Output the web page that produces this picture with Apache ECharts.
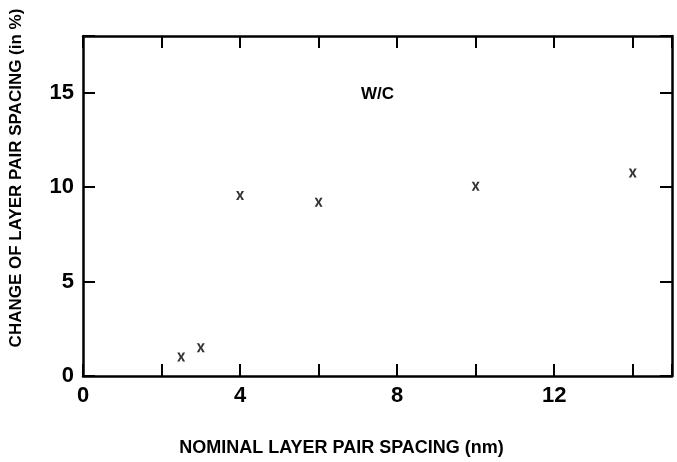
<!DOCTYPE html>
<html>
<head>
<meta charset="utf-8">
<script src="https://cdn.jsdelivr.net/npm/echarts@6/dist/echarts.min.js"></script>
<style>
html,body{margin:0;padding:0;background:#fff;}
#chart{width:677px;height:462px;}
</style>
</head>
<body>
<div id="chart"></div>
<script>
// Data
var spacingNm = [2.5, 3.0, 4.0, 6.0, 10.0, 14.0];
var changePct = [1.0, 1.5, 9.55, 9.2, 10.05, 10.75];
var xTickLabels = [0, 4, 8, 12];
var yTickLabels = [0, 5, 10, 15];
var sampleLabel = 'W/C';
var sampleLabelPos = [7.5, 14.9];
var xTitle = 'NOMINAL LAYER PAIR SPACING (nm)';
var yTitle = 'CHANGE OF LAYER PAIR SPACING (in %)';

var points = spacingNm.map(function (x, i) { return [x, changePct[i]]; });
var font = '"Liberation Sans", Arial, Helvetica, sans-serif';
var xMark = 'path://M0,0 L3,0 L5,3.6 L7,0 L10,0 L6.6,5 L10,10 L7,10 L5,6.4 L3,10 L0,10 L3.4,5 Z';

var chart = echarts.init(document.getElementById('chart'), null, {renderer: 'canvas'});
var axisLine = {show: true, onZero: false, lineStyle: {color: '#000', width: 2.5}};
var tick = {show: true, inside: true, length: 12, lineStyle: {color: '#000', width: 2}};

chart.setOption({
  backgroundColor: '#fff',
  animation: false,
  grid: {left: 78, right: 5, top: 36, bottom: 82, containLabel: false},
  xAxis: [{
    type: 'value', min: 0, max: 15, interval: 2, position: 'bottom',
    axisLine: axisLine, axisTick: tick, splitLine: {show: false},
    axisLabel: {
      color: '#000', fontFamily: font, fontWeight: 'bold', fontSize: 22, margin: 9,
      formatter: function (v) { return xTickLabels.indexOf(v) >= 0 ? String(v) : ''; }
    },
    name: xTitle, nameLocation: 'middle', nameGap: 63,
    nameTextStyle: {color: '#000', fontFamily: font, fontWeight: 'bold', fontSize: 18, padding: [0, 72, 0, 0]}
  }, {
    type: 'value', min: 0, max: 15, interval: 2, position: 'top',
    axisLine: axisLine, axisTick: tick, splitLine: {show: false}, axisLabel: {show: false}
  }],
  yAxis: [{
    type: 'value', min: 0, max: 18, interval: 5, position: 'left',
    axisLine: axisLine, axisTick: tick, splitLine: {show: false},
    axisLabel: {
      color: '#000', fontFamily: font, fontWeight: 'bold', fontSize: 22, margin: 9,
      formatter: function (v) { return yTickLabels.indexOf(v) >= 0 ? String(v) : ''; }
    },
    name: yTitle, nameLocation: 'middle', nameGap: 58, nameRotate: 90,
    nameTextStyle: {color: '#000', fontFamily: font, fontWeight: 'bold', fontSize: 17, padding: [0, 0, 0, 56]}
  }, {
    type: 'value', min: 0, max: 18, interval: 5, position: 'right',
    axisLine: axisLine, axisTick: tick, splitLine: {show: false}, axisLabel: {show: false}
  }],
  series: [{
    type: 'scatter',
    data: points,
    symbol: xMark,
    symbolSize: [8, 9],
    itemStyle: {color: '#000'},
    markPoint: {
      symbol: 'rect',
      symbolSize: 2,
      itemStyle: {color: 'rgba(0,0,0,0)'},
      data: [{coord: sampleLabelPos, value: sampleLabel}],
      label: {show: true, position: 'inside', formatter: sampleLabel, color: '#000',
        fontFamily: font, fontWeight: 'bold', fontSize: 17}
    }
  }]
});
</script>
</body>
</html>
